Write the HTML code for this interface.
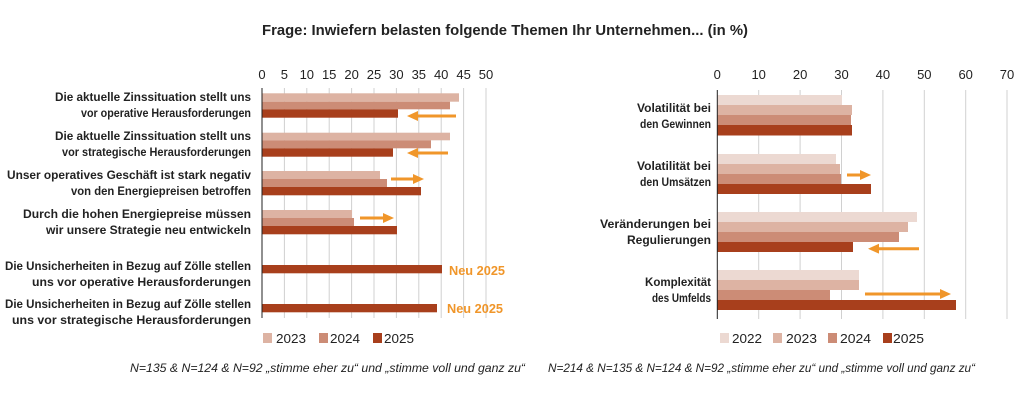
<!DOCTYPE html>
<html><head><meta charset="utf-8"><style>
html,body{margin:0;padding:0;background:#fff;}
svg{display:block;font-family:"Liberation Sans",sans-serif;}
</style></head><body>
<svg width="1028" height="415" viewBox="0 0 1028 415" xmlns="http://www.w3.org/2000/svg">
<defs>
<marker id="ah" markerWidth="11" markerHeight="10" refX="2" refY="5" orient="auto" markerUnits="userSpaceOnUse"><path d="M0,0 L11,5 L0,10 z" fill="#f0962a"/></marker>
</defs>
<text x="505" y="35" text-anchor="middle" font-size="15" font-weight="bold" fill="#222" textLength="486" lengthAdjust="spacingAndGlyphs">Frage: Inwiefern belasten folgende Themen Ihr Unternehmen... (in %)</text>

<!-- LEFT CHART -->
<g stroke="#d0d0d0" stroke-width="1">
<line x1="284.4" y1="88" x2="284.4" y2="318"/><line x1="306.8" y1="88" x2="306.8" y2="318"/><line x1="329.2" y1="88" x2="329.2" y2="318"/><line x1="351.6" y1="88" x2="351.6" y2="318"/><line x1="374" y1="88" x2="374" y2="318"/><line x1="396.4" y1="88" x2="396.4" y2="318"/><line x1="418.8" y1="88" x2="418.8" y2="318"/><line x1="441.2" y1="88" x2="441.2" y2="318"/><line x1="463.6" y1="88" x2="463.6" y2="318"/><line x1="486" y1="88" x2="486" y2="318"/>
</g>
<g font-size="13" fill="#222" text-anchor="middle">
<text x="262" y="79">0</text><text x="284.4" y="79">5</text><text x="306.8" y="79">10</text><text x="329.2" y="79">15</text><text x="351.6" y="79">20</text><text x="374" y="79">25</text><text x="396.4" y="79">30</text><text x="418.8" y="79">35</text><text x="441.2" y="79">40</text><text x="463.6" y="79">45</text><text x="486" y="79">50</text>
</g>
<g>
<rect x="262" y="93.3" width="197" height="8.4" fill="#ddb3a3"/><rect x="262" y="101.7" width="188" height="7.6" fill="#cc8c76"/><rect x="262" y="109.3" width="136" height="8.4" fill="#a83f1c"/>
<rect x="262" y="132.7" width="188" height="7.6" fill="#ddb3a3"/><rect x="262" y="140.3" width="169" height="8" fill="#cc8c76"/><rect x="262" y="148.3" width="131" height="8.4" fill="#a83f1c"/>
<rect x="262" y="171" width="118" height="8" fill="#ddb3a3"/><rect x="262" y="179" width="125" height="8" fill="#cc8c76"/><rect x="262" y="187" width="159" height="8.3" fill="#a83f1c"/>
<rect x="262" y="210" width="90" height="8" fill="#ddb3a3"/><rect x="262" y="218" width="92" height="8" fill="#cc8c76"/><rect x="262" y="226" width="135" height="8.3" fill="#a83f1c"/>
<rect x="262" y="265" width="180" height="8.3" fill="#a83f1c"/>
<rect x="262" y="304" width="175" height="8.3" fill="#a83f1c"/>
</g>
<line x1="262" y1="88" x2="262" y2="318" stroke="#222" stroke-width="1"/>
<g stroke="#f0962a" stroke-width="3" marker-end="url(#ah)">
<line x1="456" y1="116" x2="416" y2="116"/>
<line x1="448" y1="153" x2="416" y2="153"/>
<line x1="391" y1="179" x2="415" y2="179"/>
<line x1="360" y1="218" x2="385" y2="218"/>
</g>
<g font-size="13" font-weight="bold" fill="#f0962a">
<text x="449" y="275" textLength="56" lengthAdjust="spacingAndGlyphs">Neu 2025</text>
<text x="447" y="313" textLength="56" lengthAdjust="spacingAndGlyphs">Neu 2025</text>
</g>
<g font-size="12" font-weight="bold" fill="#222" text-anchor="end">
<text x="251" y="101" textLength="196" lengthAdjust="spacingAndGlyphs">Die aktuelle Zinssituation stellt uns</text>
<text x="251" y="117" textLength="170" lengthAdjust="spacingAndGlyphs">vor operative Herausforderungen</text>
<text x="251" y="140" textLength="196" lengthAdjust="spacingAndGlyphs">Die aktuelle Zinssituation stellt uns</text>
<text x="251" y="156" textLength="189" lengthAdjust="spacingAndGlyphs">vor strategische Herausforderungen</text>
<text x="251" y="179" textLength="244" lengthAdjust="spacingAndGlyphs">Unser operatives Geschäft ist stark negativ</text>
<text x="251" y="195" textLength="180" lengthAdjust="spacingAndGlyphs">von den Energiepreisen betroffen</text>
<text x="251" y="218" textLength="228" lengthAdjust="spacingAndGlyphs">Durch die hohen Energiepreise müssen</text>
<text x="251" y="234" textLength="205" lengthAdjust="spacingAndGlyphs">wir unsere Strategie neu entwickeln</text>
<text x="251" y="270" textLength="246" lengthAdjust="spacingAndGlyphs">Die Unsicherheiten in Bezug auf Zölle stellen</text>
<text x="251" y="286" textLength="219" lengthAdjust="spacingAndGlyphs">uns vor operative Herausforderungen</text>
<text x="251" y="308" textLength="246" lengthAdjust="spacingAndGlyphs">Die Unsicherheiten in Bezug auf Zölle stellen</text>
<text x="251" y="324" textLength="239" lengthAdjust="spacingAndGlyphs">uns vor strategische Herausforderungen</text>
</g>
<g font-size="13" fill="#222">
<rect x="263" y="333" width="9" height="10" fill="#ddb3a3"/><text x="276" y="343" textLength="30" lengthAdjust="spacingAndGlyphs">2023</text>
<rect x="319" y="333" width="9" height="10" fill="#cc8c76"/><text x="330" y="343" textLength="30" lengthAdjust="spacingAndGlyphs">2024</text>
<rect x="373" y="333" width="9" height="10" fill="#a83f1c"/><text x="384" y="343" textLength="30" lengthAdjust="spacingAndGlyphs">2025</text>
</g>
<text x="130" y="372" font-size="12" font-style="italic" fill="#222" textLength="395" lengthAdjust="spacingAndGlyphs">N=135 &amp; N=124 &amp; N=92  „stimme eher zu“ und „stimme voll und ganz zu“</text>

<!-- RIGHT CHART -->
<g stroke="#d0d0d0" stroke-width="1">
<line x1="758.7" y1="90" x2="758.7" y2="319"/><line x1="800.1" y1="90" x2="800.1" y2="319"/><line x1="841.5" y1="90" x2="841.5" y2="319"/><line x1="882.9" y1="90" x2="882.9" y2="319"/><line x1="924.3" y1="90" x2="924.3" y2="319"/><line x1="965.7" y1="90" x2="965.7" y2="319"/><line x1="1007" y1="90" x2="1007" y2="319"/>
</g>
<g font-size="13" fill="#222" text-anchor="middle">
<text x="717.3" y="79">0</text><text x="758.7" y="79">10</text><text x="800.1" y="79">20</text><text x="841.5" y="79">30</text><text x="882.9" y="79">40</text><text x="924.3" y="79">50</text><text x="965.7" y="79">60</text><text x="1007" y="79">70</text>
</g>
<g>
<rect x="717" y="95" width="125" height="10" fill="#ecd9d2"/><rect x="717" y="105" width="135" height="10" fill="#ddb3a3"/><rect x="717" y="115" width="134" height="10" fill="#cc8c76"/><rect x="717" y="125" width="135" height="10.5" fill="#a83f1c"/>
<rect x="717" y="154" width="119" height="10" fill="#ecd9d2"/><rect x="717" y="164" width="123" height="10" fill="#ddb3a3"/><rect x="717" y="174" width="124" height="10" fill="#cc8c76"/><rect x="717" y="184" width="154" height="10" fill="#a83f1c"/>
<rect x="717" y="212" width="200" height="10" fill="#ecd9d2"/><rect x="717" y="222" width="191" height="10" fill="#ddb3a3"/><rect x="717" y="232" width="182" height="10" fill="#cc8c76"/><rect x="717" y="242" width="136" height="10" fill="#a83f1c"/>
<rect x="717" y="270" width="142" height="10" fill="#ecd9d2"/><rect x="717" y="280" width="142" height="10" fill="#ddb3a3"/><rect x="717" y="290" width="113" height="10" fill="#cc8c76"/><rect x="717" y="300" width="239" height="10" fill="#a83f1c"/>
</g>
<line x1="717.3" y1="90" x2="717.3" y2="319" stroke="#222" stroke-width="1"/>
<g stroke="#f0962a" stroke-width="3" marker-end="url(#ah)">
<line x1="847" y1="175" x2="862" y2="175"/>
<line x1="919" y1="248.7" x2="877" y2="248.7"/>
<line x1="865" y1="294" x2="942" y2="294"/>
</g>
<g font-size="12" font-weight="bold" fill="#222" text-anchor="end">
<text x="711" y="112" textLength="74" lengthAdjust="spacingAndGlyphs">Volatilität bei</text>
<text x="711" y="128" textLength="71" lengthAdjust="spacingAndGlyphs">den Gewinnen</text>
<text x="711" y="170" textLength="74" lengthAdjust="spacingAndGlyphs">Volatilität bei</text>
<text x="711" y="186" textLength="71" lengthAdjust="spacingAndGlyphs">den Umsätzen</text>
<text x="711" y="228" textLength="111" lengthAdjust="spacingAndGlyphs">Veränderungen bei</text>
<text x="711" y="244" textLength="84" lengthAdjust="spacingAndGlyphs">Regulierungen</text>
<text x="711" y="286" textLength="66" lengthAdjust="spacingAndGlyphs">Komplexität</text>
<text x="711" y="302" textLength="59" lengthAdjust="spacingAndGlyphs">des Umfelds</text>
</g>
<g font-size="13" fill="#222">
<rect x="720" y="333" width="9" height="10" fill="#ecd9d2"/><text x="732" y="343" textLength="30" lengthAdjust="spacingAndGlyphs">2022</text>
<rect x="773" y="333" width="9" height="10" fill="#ddb3a3"/><text x="786" y="343" textLength="31" lengthAdjust="spacingAndGlyphs">2023</text>
<rect x="828" y="333" width="9" height="10" fill="#cc8c76"/><text x="840" y="343" textLength="31" lengthAdjust="spacingAndGlyphs">2024</text>
<rect x="883" y="333" width="9" height="10" fill="#a83f1c"/><text x="893" y="343" textLength="31" lengthAdjust="spacingAndGlyphs">2025</text>
</g>
<text x="548" y="372" font-size="12" font-style="italic" fill="#222" textLength="427" lengthAdjust="spacingAndGlyphs">N=214 &amp; N=135 &amp; N=124 &amp; N=92  „stimme eher zu“ und „stimme voll und ganz zu“</text>
</svg>
</body></html>
